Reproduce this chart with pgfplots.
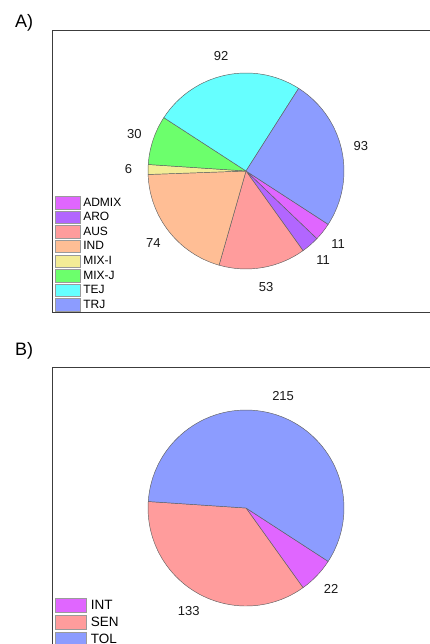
\documentclass[border=0pt]{standalone}
\usepackage{fontspec}
\setmainfont{Liberation Sans}
\usepackage{pgfplots}
\usepackage{pgfplotstable}
\pgfplotsset{compat=1.18}

\definecolor{cADMIX}{HTML}{E066FF}
\definecolor{cARO}{HTML}{B266FF}
\definecolor{cAUS}{HTML}{FF9C9C}
\definecolor{cIND}{HTML}{FFBE95}
\definecolor{cMIXI}{HTML}{F3EC96}
\definecolor{cMIXJ}{HTML}{6CFF6C}
\definecolor{cTEJ}{HTML}{66FFFF}
\definecolor{cTRJ}{HTML}{8C9CFF}
\definecolor{edgecol}{HTML}{606060}
\definecolor{legedge}{HTML}{9A9A9A}
\definecolor{framecol}{HTML}{3C3C3C}

\pgfplotstableread{
label value col
ADMIX 11 cADMIX
ARO 11 cARO
AUS 53 cAUS
IND 74 cIND
MIX-I 6 cMIXI
MIX-J 30 cMIXJ
TEJ 92 cTEJ
TRJ 93 cTRJ
}\pieA

\pgfplotstableread{
label value col
INT 22 cADMIX
SEN 133 cAUS
TOL 215 cTRJ
}\pieB

\newcommand\pielabfont{\fontsize{13}{13}\selectfont}

% #1 table, #2 start angle (clockwise)
\newcommand\drawpie[2]{%
  \pgfplotstablegetrowsof{#1}%
  \pgfmathtruncatemacro\pielast{\pgfplotsretval-1}%
  \xdef\pietotal{0}%
  \foreach \i in {0,...,\pielast}{%
    \pgfplotstablegetelem{\i}{value}\of{#1}%
    \pgfmathsetmacro\tmp{\pietotal+\pgfplotsretval}%
    \xdef\pietotal{\tmp}%
  }%
  \xdef\pieangle{#2}%
  \foreach \i in {0,...,\pielast}{%
    \pgfplotstablegetelem{\i}{value}\of{#1}\let\pieval\pgfplotsretval
    \pgfplotstablegetelem{\i}{col}\of{#1}\let\piecol\pgfplotsretval
    \pgfmathsetmacro\piespan{\pieval/\pietotal*360}%
    \pgfmathsetmacro\pieend{\pieangle-\piespan}%
    \pgfmathsetmacro\piemid{(\pieangle+\pieend)/2}%
    \pgfmathsetmacro\sx{cos(\pieangle)}%
    \pgfmathsetmacro\sy{sin(\pieangle)}%
    \pgfmathsetmacro\lx{1.2*cos(\piemid)}%
    \pgfmathsetmacro\ly{1.2*sin(\piemid)}%
    \pgfmathtruncatemacro\pielab{\pieval}%
    \edef\temp{\noexpand\fill[fill=\piecol, draw=edgecol, line width=0.45pt, line join=round]
      (axis cs:0,0) -- (axis cs:\sx,\sy) arc[start angle=\pieangle, end angle=\pieend, radius=1] -- cycle;
      \noexpand\node[font=\noexpand\pielabfont, text=black!90] at (axis cs:\lx,\ly) {\pielab};}%
    \temp
    \xdef\pieangle{\pieend}%
  }%
}

\begin{document}
\begin{tikzpicture}
\useasboundingbox (0pt,0pt) rectangle (430pt,644pt);

\node[font=\fontsize{18}{18}\selectfont, anchor=base west, inner sep=0pt] at (15pt,616pt) {A)};
\node[font=\fontsize{18}{18}\selectfont, anchor=base west, inner sep=0pt] at (15pt,288pt) {B)};

% ---------- Panel A ----------
\begin{axis}[
  at={(52pt,332pt)}, anchor=south west,
  scale only axis, width=388pt, height=282pt,
  xmin=-1.98, xmax=1.98, ymin=-1.439, ymax=1.439,
  xtick=\empty, ytick=\empty,
  axis line style={draw=framecol, line width=0.9pt},
  clip=false,
  legend cell align=left,
  legend image code/.code={\draw[#1] (0pt,-6.2pt) rectangle (24.5pt,6.2pt);},
  legend style={at={(0.0077,0.411)}, anchor=north west, draw=none, fill=none,
    inner sep=0pt, row sep=1.6pt, font=\fontsize{12}{12}\selectfont,
    nodes={inner sep=0pt},
    /tikz/every odd column/.append style={column sep=3pt}},
]
\drawpie{\pieA}{-33}
\addlegendimage{fill=cADMIX, draw=legedge, line width=0.6pt}\addlegendentry{ADMIX}
\addlegendimage{fill=cARO, draw=legedge, line width=0.6pt}\addlegendentry{ARO}
\addlegendimage{fill=cAUS, draw=legedge, line width=0.6pt}\addlegendentry{AUS}
\addlegendimage{fill=cIND, draw=legedge, line width=0.6pt}\addlegendentry{IND}
\addlegendimage{fill=cMIXI, draw=legedge, line width=0.6pt}\addlegendentry{MIX-I}
\addlegendimage{fill=cMIXJ, draw=legedge, line width=0.6pt}\addlegendentry{MIX-J}
\addlegendimage{fill=cTEJ, draw=legedge, line width=0.6pt}\addlegendentry{TEJ}
\addlegendimage{fill=cTRJ, draw=legedge, line width=0.6pt}\addlegendentry{TRJ}
\end{axis}

% ---------- Panel B ----------
\begin{axis}[
  at={(52pt,-16pt)}, anchor=south west,
  scale only axis, width=388pt, height=293pt,
  xmin=-1.98, xmax=1.98, ymin=-1.551, ymax=1.439,
  xtick=\empty, ytick=\empty,
  axis line style={draw=framecol, line width=0.9pt},
  clip=false,
  legend cell align=left,
  legend image code/.code={\draw[#1] (0pt,-7.2pt) rectangle (31pt,7.2pt);},
  legend style={at={(0.0077,0.2126)}, anchor=north west, draw=none, fill=none,
    inner sep=0pt, row sep=2pt, font=\fontsize{13.5}{13.5}\selectfont,
    nodes={inner sep=0pt},
    /tikz/every odd column/.append style={column sep=4pt}},
]
\drawpie{\pieB}{-33}
\addlegendimage{fill=cADMIX, draw=legedge, line width=0.6pt}\addlegendentry{INT}
\addlegendimage{fill=cAUS, draw=legedge, line width=0.6pt}\addlegendentry{SEN}
\addlegendimage{fill=cTRJ, draw=legedge, line width=0.6pt}\addlegendentry{TOL}
\end{axis}
\end{tikzpicture}
\end{document}
